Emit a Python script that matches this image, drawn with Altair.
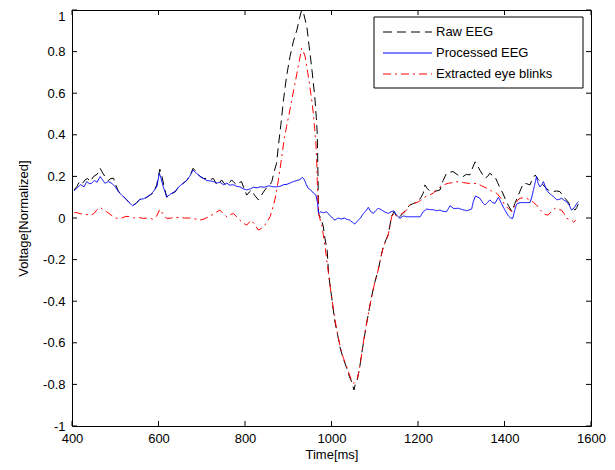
import altair as alt
import pandas as pd

# ---- Raw EEG (black dashed) ----
raw_t = [405, 411, 416, 422, 430, 436, 442, 450, 458, 465, 470, 476, 484, 490, 496, 501, 507, 515, 523, 532,
         540, 548, 557, 565, 573, 580, 588, 596, 603, 608, 612, 619, 628, 638, 647, 657, 665, 672, 680, 688,
         696, 704, 712, 720, 727, 735, 741, 746, 752, 758, 764, 769, 775, 781, 787, 792, 798, 804, 810, 815,
         822, 831, 838, 846, 852, 858, 862, 867, 873, 877, 883, 889, 896, 904, 912, 920, 926, 931, 936, 943,
         948, 954, 958, 962, 965, 967, 968, 969, 970, 975, 981, 985, 990, 993, 997, 1000, 1004, 1008, 1014, 1020,
         1027, 1035, 1041, 1047, 1052, 1055, 1060, 1065, 1070, 1075, 1081, 1087, 1093, 1100, 1108, 1114, 1120, 1126, 1131, 1135,
         1139, 1145, 1150, 1154, 1160, 1166, 1170, 1176, 1181, 1190, 1201, 1207, 1212, 1216, 1222, 1228, 1235, 1243, 1251, 1258,
         1266, 1273, 1281, 1290, 1297, 1304, 1312, 1320, 1326, 1332, 1337, 1343, 1349, 1355, 1361, 1366, 1372, 1378, 1384, 1390,
         1396, 1401, 1409, 1417, 1424, 1432, 1438, 1444, 1451, 1459, 1465, 1471, 1478, 1486, 1493, 1501, 1507, 1513, 1520, 1528,
         1534, 1540, 1546, 1551, 1557, 1563, 1567, 1571]
raw_v = [0.135, 0.15, 0.17, 0.16, 0.183, 0.19, 0.175, 0.2, 0.21, 0.239, 0.22, 0.2, 0.18, 0.19, 0.191, 0.16, 0.13, 0.11, 0.095, 0.075,
         0.06, 0.07, 0.09, 0.09, 0.1, 0.11, 0.12, 0.16, 0.235, 0.2, 0.16, 0.1, 0.115, 0.125, 0.15, 0.167, 0.18, 0.2, 0.239, 0.22,
         0.2, 0.19, 0.19, 0.185, 0.19, 0.159, 0.17, 0.183, 0.165, 0.159, 0.17, 0.183, 0.17, 0.159, 0.17, 0.175, 0.14, 0.11, 0.125, 0.135,
         0.11, 0.087, 0.11, 0.135, 0.15, 0.16, 0.175, 0.22, 0.263, 0.343, 0.45, 0.567, 0.68, 0.776, 0.85, 0.904, 0.96, 1.0, 0.98, 0.92,
         0.83, 0.727, 0.65, 0.567, 0.48, 0.407, 0.3, 0.17, 0.02, 0.0, -0.04, -0.1, -0.154, -0.26, -0.33, -0.375, -0.44, -0.5, -0.56, -0.625,
         -0.675, -0.72, -0.76, -0.79, -0.827, -0.8, -0.775, -0.72, -0.65, -0.585, -0.51, -0.44, -0.375, -0.31, -0.25, -0.19, -0.135, -0.105, -0.08, -0.035,
         0.01, 0.03, 0.01, -0.002, 0.01, 0.025, 0.035, 0.05, 0.0625, 0.07, 0.08, 0.1, 0.119, 0.159, 0.14, 0.13, 0.127, 0.13, 0.135, 0.18,
         0.215, 0.22, 0.223, 0.21, 0.2, 0.199, 0.21, 0.207, 0.24, 0.27, 0.255, 0.23, 0.21, 0.191, 0.2, 0.215, 0.205, 0.199, 0.17, 0.143,
         0.12, 0.095, 0.06, 0.03, 0.07, 0.11, 0.14, 0.167, 0.165, 0.159, 0.19, 0.207, 0.185, 0.167, 0.15, 0.135, 0.13, 0.127, 0.13, 0.127,
         0.11, 0.095, 0.08, 0.0625, 0.05, 0.038, 0.05, 0.07]

# ---- Processed EEG (blue solid) ----
proc_t = [405, 411, 420, 428, 434, 440, 445, 452, 458, 465, 470, 476, 484, 492, 500, 507, 515, 523, 532, 540,
          548, 557, 565, 573, 580, 588, 596, 602, 606, 611, 619, 628, 638, 647, 657, 665, 672, 680, 688, 696,
          704, 712, 720, 727, 735, 742, 750, 758, 765, 773, 781, 788, 796, 804, 812, 820, 828, 835, 845, 855,
          865, 873, 881, 889, 897, 904, 912, 920, 927, 933, 937, 942, 946, 952, 958, 964, 968, 970, 975, 981,
          989, 995, 1002, 1008, 1015, 1022, 1030, 1035, 1042, 1048, 1054, 1060, 1067, 1073, 1080, 1085, 1091, 1097, 1102, 1108,
          1115, 1122, 1131, 1138, 1144, 1150, 1158, 1166, 1174, 1182, 1190, 1198, 1205, 1212, 1220, 1228, 1235, 1243, 1251, 1258,
          1266, 1274, 1283, 1293, 1303, 1313, 1324, 1328, 1333, 1343, 1349, 1355, 1361, 1366, 1372, 1378, 1386, 1393, 1401, 1409,
          1414, 1419, 1424, 1428, 1436, 1447, 1459, 1463, 1467, 1474, 1478, 1482, 1486, 1490, 1497, 1503, 1509, 1515, 1521, 1527,
          1532, 1538, 1544, 1550, 1555, 1559, 1563, 1567, 1571]
proc_v = [0.13, 0.143, 0.16, 0.15, 0.175, 0.165, 0.167, 0.18, 0.172, 0.199, 0.185, 0.167, 0.175, 0.167, 0.15, 0.127, 0.11, 0.095, 0.075, 0.059,
          0.07, 0.09, 0.092, 0.1, 0.11, 0.127, 0.15, 0.215, 0.19, 0.15, 0.102, 0.115, 0.127, 0.15, 0.167, 0.18, 0.2, 0.23, 0.215, 0.2,
          0.19, 0.18, 0.178, 0.175, 0.168, 0.172, 0.16, 0.167, 0.158, 0.16, 0.152, 0.15, 0.14, 0.135, 0.14, 0.148, 0.145, 0.15, 0.148, 0.155,
          0.15, 0.15, 0.152, 0.16, 0.162, 0.168, 0.175, 0.18, 0.185, 0.195, 0.185, 0.16, 0.143, 0.135, 0.12, 0.11, 0.07, 0.02, 0.03, 0.025,
          0.03, 0.015, 0.0, -0.01, 0.0, -0.005, 0.0, -0.006, -0.01, -0.02, -0.029, -0.015, 0.0, 0.02, 0.035, 0.051, 0.03, 0.022, 0.035, 0.047,
          0.04, 0.03, 0.022, 0.03, 0.034, 0.015, -0.002, 0.01, 0.006, 0.006, 0.006, 0.006, 0.006, 0.03, 0.043, 0.04, 0.04, 0.035, 0.038, 0.032,
          0.03, 0.059, 0.045, 0.047, 0.04, 0.035, 0.043, 0.08, 0.106, 0.095, 0.075, 0.0625, 0.075, 0.087, 0.075, 0.07, 0.1, 0.07, 0.038, 0.01,
          0.0, -0.002, 0.04, 0.067, 0.074, 0.074, 0.074, 0.1, 0.135, 0.199, 0.165, 0.15, 0.16, 0.175, 0.135, 0.12, 0.11, 0.1, 0.087, 0.09,
          0.095, 0.085, 0.078, 0.06, 0.038, 0.045, 0.054, 0.07, 0.078]

# ---- Extracted eye blinks (red dash-dot) ----
blink_t = [405, 411, 420, 430, 442, 450, 458, 465, 472, 480, 490, 500, 507, 515, 525, 534, 545, 555, 565, 575,
           588, 596, 603, 610, 619, 630, 640, 650, 660, 670, 680, 688, 696, 705, 715, 727, 735, 742, 750, 758,
           765, 773, 781, 788, 796, 804, 810, 815, 822, 831, 838, 846, 852, 858, 863, 869, 873, 877, 881, 885,
           890, 896, 902, 908, 914, 920, 926, 931, 935, 939, 945, 950, 954, 958, 961, 964, 966, 967, 969, 970,
           974, 977, 981, 985, 989, 993, 997, 1000, 1004, 1008, 1014, 1020, 1027, 1035, 1041, 1047, 1052, 1056, 1060, 1065,
           1070, 1075, 1081, 1087, 1093, 1100, 1108, 1114, 1120, 1126, 1131, 1135, 1139, 1145, 1150, 1155, 1162, 1170, 1176, 1181,
           1190, 1201, 1206, 1212, 1220, 1228, 1235, 1243, 1251, 1260, 1270, 1280, 1293, 1305, 1316, 1326, 1336, 1347, 1359, 1370,
           1382, 1390, 1396, 1401, 1409, 1417, 1424, 1430, 1436, 1444, 1451, 1460, 1467, 1474, 1482, 1490, 1496, 1501, 1508, 1517,
           1525, 1532, 1538, 1544, 1550, 1555, 1560, 1565]
blink_v = [0.025, 0.026, 0.02, 0.018, 0.014, 0.02, 0.04, 0.051, 0.04, 0.03, 0.015, 0.0, -0.002, 0.0, 0.008, 0.006, 0.0, 0.002, -0.002, 0.0,
           -0.006, 0.01, 0.042, 0.02, -0.002, 0.0, 0.003, 0.002, 0.0, 0.0, -0.002, -0.006, -0.01, -0.005, 0.005, 0.018, 0.03, 0.038, 0.02, 0.006,
           0.015, 0.022, 0.005, -0.01, -0.025, -0.034, -0.02, -0.01, -0.03, -0.058, -0.05, -0.034, -0.015, 0.006, 0.04, 0.087, 0.13, 0.18, 0.235, 0.295,
           0.37, 0.439, 0.5, 0.567, 0.63, 0.695, 0.76, 0.816, 0.8, 0.776, 0.7, 0.631, 0.57, 0.503, 0.43, 0.359, 0.26, 0.18, 0.08, 0.022,
           -0.01, -0.026, -0.08, -0.138, -0.2, -0.266, -0.33, -0.378, -0.43, -0.49, -0.555, -0.619, -0.67, -0.715, -0.75, -0.787, -0.795, -0.785, -0.771, -0.72,
           -0.651, -0.58, -0.506, -0.44, -0.378, -0.31, -0.25, -0.19, -0.138, -0.11, -0.082, -0.04, 0.006, 0.025, 0.01, 0.012, 0.02, 0.03, 0.045, 0.0625,
           0.07, 0.078, 0.085, 0.095, 0.105, 0.112, 0.119, 0.135, 0.15, 0.16, 0.167, 0.17, 0.175, 0.17, 0.167, 0.165, 0.167, 0.155, 0.143, 0.13,
           0.119, 0.1, 0.08, 0.0625, 0.045, 0.03, 0.06, 0.085, 0.095, 0.097, 0.095, 0.085, 0.075, 0.0625, 0.04, 0.022, 0.016, 0.014, 0.03, 0.047,
           0.04, 0.038, 0.02, -0.002, -0.006, -0.01, -0.02, -0.01]

series_names = ["Raw EEG", "Processed EEG", "Extracted eye blinks"]
x_ticks = [400, 600, 800, 1000, 1200, 1400, 1600]
y_ticks = [-1, -0.8, -0.6, -0.4, -0.2, 0, 0.2, 0.4, 0.6, 0.8, 1]

df = pd.concat([
    pd.DataFrame({"t": raw_t, "v": raw_v, "series": series_names[0]}),
    pd.DataFrame({"t": proc_t, "v": proc_v, "series": series_names[1]}),
    pd.DataFrame({"t": blink_t, "v": blink_v, "series": series_names[2]}),
], ignore_index=True)
legend_df = pd.DataFrame({"series": series_names, "row": list(range(len(series_names)))})

W, H = 519, 416
FONT = "Liberation Sans"

xscale = alt.Scale(domain=[400, 1600], nice=False, zero=False)
yscale = alt.Scale(domain=[-1, 1], nice=False, zero=False)

color = alt.Color("series:N", scale=alt.Scale(domain=series_names, range=["#000000", "#0000ff", "#ff0000"]),
                  legend=None)
dash = alt.StrokeDash("series:N", scale=alt.Scale(domain=series_names, range=[[9, 5], [1, 0], [8, 4, 2, 4]]),
                      legend=None)

xaxis = alt.Axis(values=x_ticks, title="Time[ms]", domain=False, ticks=False, grid=False,
                 labelExpr="toString(datum.value)",
                 labelFont=FONT, labelFontSize=13, labelColor="#000000", labelPadding=6,
                 titleFont=FONT, titleFontSize=13, titleFontWeight="normal", titleColor="#000000", titlePadding=3,
                 labelFlush=False)
yaxis = alt.Axis(values=y_ticks, title="Voltage[Normalized]", domain=False, ticks=False, grid=False,
                 labelFont=FONT, labelFontSize=13, labelColor="#000000", labelPadding=7,
                 labelExpr="toString(round(datum.value*10)/10)",
                 labelOffset={"condition": {"test": "datum.value >= 1", "value": 6}, "value": 0},
                 titleFont=FONT, titleFontSize=13, titleFontWeight="normal", titleColor="#000000", titlePadding=12,
                 labelFlush=False)

X = alt.X("t:Q", scale=xscale, axis=xaxis)

base = alt.Chart(df)
layers = []
for i, name in enumerate(series_names):
    layers.append(
        base.transform_filter(alt.datum.series == name).mark_line(strokeWidth=1, clip=True).encode(
            x=X,
            y=alt.Y("v:Q", scale=yscale, axis=yaxis if i == 0 else None),
            color=color,
            strokeDash=dash,
            order=alt.Order("t:Q"),
        )
    )

xt = pd.DataFrame({"t": x_ticks})
yt = pd.DataFrame({"v": y_ticks})
tick_len = 5
xtick_bottom = alt.Chart(xt).mark_rule(color="#000000", strokeWidth=1).encode(
    x=X, y=alt.value(H), y2=alt.value(H - tick_len))
xtick_top = alt.Chart(xt).mark_rule(color="#000000", strokeWidth=1).encode(
    x=X, y=alt.value(0), y2=alt.value(tick_len))
ytick_left = alt.Chart(yt).mark_rule(color="#000000", strokeWidth=1).encode(
    y=alt.Y("v:Q", scale=yscale, axis=None), x=alt.value(0), x2=alt.value(tick_len))
ytick_right = alt.Chart(yt).mark_rule(color="#000000", strokeWidth=1).encode(
    y=alt.Y("v:Q", scale=yscale, axis=None), x=alt.value(W), x2=alt.value(W - tick_len))

# ---- legend (manual, MATLAB style box) ----
legend_y = alt.Y("row:Q", scale=alt.Scale(domain=[0, 2], range=[22, 64], nice=False, zero=False), axis=None)
legend_box = alt.Chart(legend_df.head(1)).mark_rect(fill="#ffffff", stroke="#000000", strokeWidth=1).encode(
    x=alt.value(302), x2=alt.value(511), y=alt.value(7), y2=alt.value(78))
legend_lines = alt.Chart(legend_df).mark_rule(strokeWidth=1).encode(
    y=legend_y, x=alt.value(311), x2=alt.value(360), color=color, strokeDash=dash)
legend_text = alt.Chart(legend_df).mark_text(align="left", baseline="middle", font=FONT, fontSize=13,
                                             color="#000000").encode(
    y=legend_y, x=alt.value(364), text="series:N")

chart = alt.layer(xtick_bottom, xtick_top, ytick_left, ytick_right, *layers,
                  legend_box, legend_lines, legend_text).resolve_scale(y="independent").properties(
    width=W, height=H,
    autosize=alt.AutoSizeParams(type="none"),
    padding={"left": 64, "top": 2, "right": 16, "bottom": 36},
    background="#ffffff",
).configure_view(stroke="#000000", strokeWidth=1)

chart.save("out.html", embed_options={"renderer": "svg", "actions": False})
